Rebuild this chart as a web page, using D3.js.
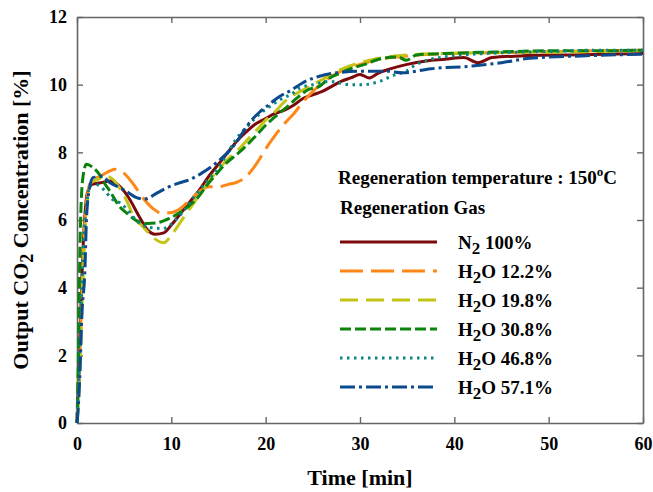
<!DOCTYPE html>
<html lang="en">
<head>
<meta charset="UTF-8">
<title>Output CO2 concentration vs time</title>
<script src="https://d3js.org/d3.v7.min.js"></script>
<style>
  body { margin: 0; background: #fff; }
  svg text { font-family: "Liberation Serif", "Times New Roman", serif; font-weight: bold; fill: #000; }
</style>
</head>
<body>
<div id="chart"></div>
<script>
// ---- data (time [min], CO2 [%]) ----
const n2_100 = [[0,0],[0.3,2.5],[0.7,5.5],[1.1,6.8],[1.6,7.05],[2.5,7.1],[3.5,7.15],[4.5,7.0],[5.5,6.65],[6.5,6.15],[7.5,5.7],[8.3,5.58],[9.2,5.62],[10,5.85],[11,6.2],[12,6.55],[13,6.9],[14,7.3],[15,7.65],[16,8.0],[17,8.35],[18,8.62],[19,8.85],[20,9.0],[21,9.15],[22,9.25],[23,9.4],[24,9.6],[25,9.7],[26,9.8],[27,9.95],[28,10.1],[29,10.2],[30,10.3],[31,10.2],[32,10.35],[33,10.45],[35,10.6],[37,10.7],[39,10.75],[41,10.8],[42.5,10.65],[44,10.8],[47,10.85],[52,10.88],[56,10.9],[60,10.92]];
const h2o_122 = [[0,0],[0.3,2],[0.6,4.6],[1,6.5],[1.5,7.15],[2.5,7.3],[3.5,7.45],[4,7.5],[5,7.38],[6,7.05],[7,6.65],[8,6.35],[9,6.2],[10,6.22],[11,6.35],[12,6.6],[13,6.85],[14,6.98],[15,6.98],[16,7.05],[17,7.12],[18,7.3],[19,7.65],[20,8.1],[21,8.5],[22,8.85],[23,9.15],[24,9.5],[25,9.8],[26,10.05],[27,10.25],[28,10.4],[30,10.6],[32,10.75],[35,10.85],[40,10.92],[45,10.95],[50,10.97],[55,11.0],[60,11.02]];
const h2o_198 = [[0,0],[0.3,1.5],[0.6,4],[1,6.3],[1.5,7.1],[2.2,7.2],[3,7.3],[3.8,7.2],[4.5,6.95],[5.3,6.55],[6,6.1],[7,5.8],[8,5.5],[8.6,5.38],[9.2,5.33],[10,5.55],[11,5.95],[12,6.35],[13,6.75],[14,7.15],[15,7.5],[16,7.8],[17,8.05],[18,8.35],[19,8.65],[20,8.95],[21,9.2],[22,9.5],[23,9.7],[24,9.85],[25,10.0],[26,10.15],[28,10.45],[30,10.65],[32,10.78],[35,10.88],[40,10.93],[45,10.95],[50,10.96],[55,10.98],[60,11.0]];
const h2o_308 = [[0,0],[0.15,2],[0.3,5],[0.6,7.2],[1,7.65],[1.7,7.55],[2.5,7.3],[3,7.05],[3.5,6.85],[4.5,6.4],[5.3,6.2],[6.3,5.98],[7.5,5.9],[8.5,5.92],[9.8,6.05],[10.9,6.22],[12,6.45],[12.7,6.63],[13.7,7.0],[14.8,7.37],[15.7,7.65],[16.5,7.84],[17.6,8.1],[19,8.5],[20,8.8],[21.2,9.1],[22.3,9.35],[23.3,9.6],[24.5,9.85],[25.7,9.95],[26.8,10.2],[28,10.35],[29,10.47],[30.5,10.6],[32,10.75],[34,10.82],[34.9,10.72],[36,10.88],[40,10.93],[45,10.97],[50,11.0],[55,11.0],[60,11.02]];
const h2o_468 = [[0,0],[0.3,2],[0.6,4.8],[1,6.4],[1.5,7.05],[2,7.05],[2.6,6.96],[3.2,6.78],[3.8,6.6],[4.6,6.5],[5.6,6.22],[6.3,5.98],[7.7,5.78],[9.1,5.75],[10.6,6.04],[11.6,6.37],[12.7,6.78],[14.1,7.25],[15,7.55],[15.9,7.95],[16.9,8.4],[18.3,8.84],[19.4,9.14],[20.4,9.35],[21.5,9.55],[22.9,9.75],[23.6,9.9],[25,10.0],[26.8,10.1],[28.9,10.0],[30.3,10.0],[32.1,10.1],[33.4,10.26],[34.9,10.4],[36,10.6],[37.5,10.75],[40,10.85],[44.8,10.94],[50,10.98],[55,11.02],[60,11.02]];
const h2o_571 = [[0,0],[0.1,0.3],[0.3,1.4],[0.5,3.1],[0.85,4.6],[1.0,6.0],[1.3,6.9],[1.7,7.25],[2.6,7.3],[3.5,7.1],[4.6,6.95],[5.5,6.8],[6.3,6.66],[7.2,6.62],[8.5,6.8],[9.5,6.95],[10.9,7.1],[12,7.2],[13.3,7.4],[14.8,7.7],[15.8,7.95],[16.9,8.3],[17.6,8.6],[18.5,8.95],[19.4,9.2],[20.3,9.4],[21.2,9.6],[22.9,9.87],[23.9,10.05],[25.7,10.25],[27.5,10.35],[30.3,10.4],[32.8,10.4],[34.5,10.35],[37.5,10.47],[41.9,10.55],[45,10.65],[48,10.78],[53.5,10.85],[60,10.9]];

const xTicks = [0, 10, 20, 30, 40, 50, 60];
const yTicks = [0, 2, 4, 6, 8, 10, 12];

// label parts: [main, subscript, rest]
const series = [
  { name: ["N", "2", " 100%"],   data: n2_100,  color: "#7d0a0a", dash: null },
  { name: ["H", "2", "O 12.2%"], data: h2o_122, color: "#ff8717", dash: "23,8" },
  { name: ["H", "2", "O 19.8%"], data: h2o_198, color: "#c4c416", dash: "18,8" },
  { name: ["H", "2", "O 30.8%"], data: h2o_308, color: "#0b820b", dash: "11,4" },
  { name: ["H", "2", "O 46.8%"], data: h2o_468, color: "#0a8585", dash: "2.5,4.5" },
  { name: ["H", "2", "O 57.1%"], data: h2o_571, color: "#0b4a8c", dash: "15,4,3,4" }
];

const width = 653, height = 492;
const mLeft = 77, mRight = 643, mTop = 17, mBottom = 423;

const svg = d3.select("#chart").append("svg")
  .attr("width", width)
  .attr("height", height);

const x = d3.scaleLinear().domain([0, 60]).range([mLeft, mRight]);
const y = d3.scaleLinear().domain([0, 12]).range([mBottom, mTop]);

const axisColor = "#666";

// frame with inward ticks on all four sides
const tickLen = 6;
svg.append("g").attr("transform", `translate(0,${mBottom})`)
  .call(d3.axisBottom(x).tickValues(xTicks).tickSizeInner(-tickLen).tickSizeOuter(0).tickPadding(14));
svg.append("g").attr("transform", `translate(0,${mTop})`)
  .call(d3.axisTop(x).tickValues(xTicks).tickSizeInner(-tickLen).tickSizeOuter(0).tickFormat(""));
svg.append("g").attr("transform", `translate(${mLeft},0)`)
  .call(d3.axisLeft(y).tickValues(yTicks).tickSizeInner(-tickLen).tickSizeOuter(0).tickPadding(10));
svg.append("g").attr("transform", `translate(${mRight},0)`)
  .call(d3.axisRight(y).tickValues(yTicks).tickSizeInner(-tickLen).tickSizeOuter(0).tickFormat(""));

svg.selectAll(".domain").attr("stroke", axisColor).attr("stroke-width", 1.6);
svg.selectAll(".tick line").attr("stroke", axisColor).attr("stroke-width", 1.4);
svg.selectAll(".tick text").attr("font-size", 18).attr("fill", "#000")
  .attr("font-family", "'Liberation Serif', 'Times New Roman', serif").attr("font-weight", "bold");

// curves
const line = d3.line()
  .x(d => x(d[0]))
  .y(d => y(d[1]))
  .curve(d3.curveMonotoneX);

svg.append("g").selectAll("path")
  .data(series)
  .join("path")
  .attr("d", d => line(d.data))
  .attr("fill", "none")
  .attr("stroke", d => d.color)
  .attr("stroke-width", 3)
  .attr("stroke-dasharray", d => d.dash)
  .attr("stroke-linejoin", "round");

// axis titles
svg.append("text")
  .attr("x", (mLeft + mRight) / 2)
  .attr("y", 485)
  .attr("text-anchor", "middle")
  .attr("font-size", 22)
  .text("Time [min]");

const yTitle = svg.append("text")
  .attr("transform", `translate(28,${(mTop + mBottom) / 2}) rotate(-90)`)
  .attr("text-anchor", "middle")
  .attr("font-size", 22);
yTitle.append("tspan").text("Output CO");
yTitle.append("tspan").attr("font-size", 18).attr("dy", 5).text("2");
yTitle.append("tspan").attr("dy", -5).text(" Concentration [%]");

// legend
const title = svg.append("text").attr("x", 338).attr("y", 184).attr("font-size", 19);
title.append("tspan").text("Regeneration temperature : 150");
title.append("tspan").attr("font-size", 13).attr("dy", -8).text("o");
title.append("tspan").attr("dy", 8).text("C");

svg.append("text").attr("x", 340).attr("y", 214).attr("font-size", 19).text("Regeneration Gas");

const legend = svg.append("g").selectAll("g")
  .data(series)
  .join("g")
  .attr("transform", (d, i) => `translate(0,${242 + i * 29})`);

legend.append("line")
  .attr("x1", 340).attr("x2", 437)
  .attr("stroke", d => d.color)
  .attr("stroke-width", 3)
  .attr("stroke-dasharray", d => d.dash);

const lt = legend.append("text").attr("x", 458).attr("y", 7).attr("font-size", 19);
lt.append("tspan").text(d => d.name[0]);
lt.append("tspan").attr("font-size", 17).attr("dy", 5).text(d => d.name[1]);
lt.append("tspan").attr("dy", -5).text(d => d.name[2]);
</script>
</body>
</html>
